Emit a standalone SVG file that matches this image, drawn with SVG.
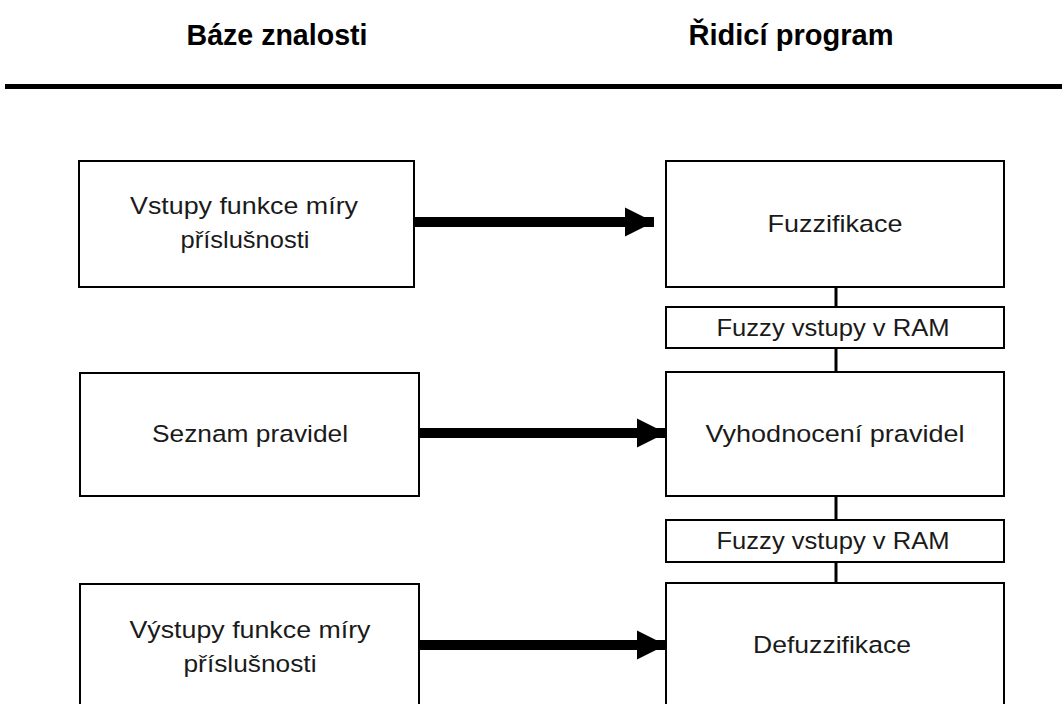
<svg xmlns="http://www.w3.org/2000/svg" width="1062" height="704" viewBox="0 0 1062 704">
<defs>
<style>
.box{fill:#fff;stroke:#000;stroke-width:2}
.t{font-family:"Liberation Sans",Arial,sans-serif;font-size:24.5px;fill:#1a1a1a;text-anchor:middle}
.h{font-family:"Liberation Sans",Arial,sans-serif;font-size:30px;font-weight:bold;fill:#000;text-anchor:middle}
.shaft{stroke:#000;stroke-width:10;fill:none}
.link{stroke:#000;stroke-width:3;fill:none}
</style>
<marker id="ah" viewBox="0 0 10 10" refX="10" refY="5" markerWidth="2.9" markerHeight="3" markerUnits="strokeWidth" orient="auto">
<path d="M0,0 L10,5 L0,10 Z" fill="#000"/>
</marker>
</defs>
<rect width="1062" height="704" fill="#fff"/>
<g id="header">
<text class="h" x="277" y="45" textLength="181" lengthAdjust="spacingAndGlyphs">Báze znalosti</text>
<text class="h" x="791" y="45" textLength="205" lengthAdjust="spacingAndGlyphs">Řidicí program</text>
<rect x="5" y="84" width="1057" height="5" fill="#000"/>
</g>
<g id="connectors">
<line class="shaft" x1="414" y1="222" x2="654" y2="222" marker-end="url(#ah)"/>
<line class="shaft" x1="419" y1="433" x2="666" y2="433" marker-end="url(#ah)"/>
<line class="shaft" x1="419" y1="645" x2="666" y2="645" marker-end="url(#ah)"/>
<line class="link" x1="836" y1="287" x2="836" y2="307"/>
<line class="link" x1="836" y1="348" x2="836" y2="372"/>
<line class="link" x1="836" y1="496" x2="836" y2="520"/>
<line class="link" x1="836" y1="562" x2="836" y2="583"/>
</g>
<g id="n1">
<rect class="box" x="79" y="161" width="335" height="126"/>
<text class="t" x="244" y="214" textLength="228" lengthAdjust="spacingAndGlyphs">Vstupy funkce míry</text>
<text class="t" x="245" y="248" textLength="129" lengthAdjust="spacingAndGlyphs">příslušnosti</text>
</g>
<g id="n2">
<rect class="box" x="80" y="373" width="339" height="123"/>
<text class="t" x="250" y="442" textLength="196" lengthAdjust="spacingAndGlyphs">Seznam pravidel</text>
</g>
<g id="n3">
<rect class="box" x="80" y="584" width="339" height="130"/>
<text class="t" x="250" y="638" textLength="241" lengthAdjust="spacingAndGlyphs">Výstupy funkce míry</text>
<text class="t" x="250" y="672" textLength="133" lengthAdjust="spacingAndGlyphs">příslušnosti</text>
</g>
<g id="n4">
<rect class="box" x="666" y="161" width="338" height="126"/>
<text class="t" x="835" y="232" textLength="135" lengthAdjust="spacingAndGlyphs">Fuzzifikace</text>
</g>
<g id="n5">
<rect class="box" x="666" y="307" width="338" height="41"/>
<text class="t" x="833" y="336" textLength="233" lengthAdjust="spacingAndGlyphs">Fuzzy vstupy v RAM</text>
</g>
<g id="n6">
<rect class="box" x="666" y="372" width="338" height="124"/>
<text class="t" x="835" y="442" textLength="259" lengthAdjust="spacingAndGlyphs">Vyhodnocení pravidel</text>
</g>
<g id="n7">
<rect class="box" x="666" y="520" width="338" height="42"/>
<text class="t" x="833" y="549" textLength="233" lengthAdjust="spacingAndGlyphs">Fuzzy vstupy v RAM</text>
</g>
<g id="n8">
<rect class="box" x="666" y="583" width="338" height="131"/>
<text class="t" x="832" y="653" textLength="158" lengthAdjust="spacingAndGlyphs">Defuzzifikace</text>
</g>
</svg>
